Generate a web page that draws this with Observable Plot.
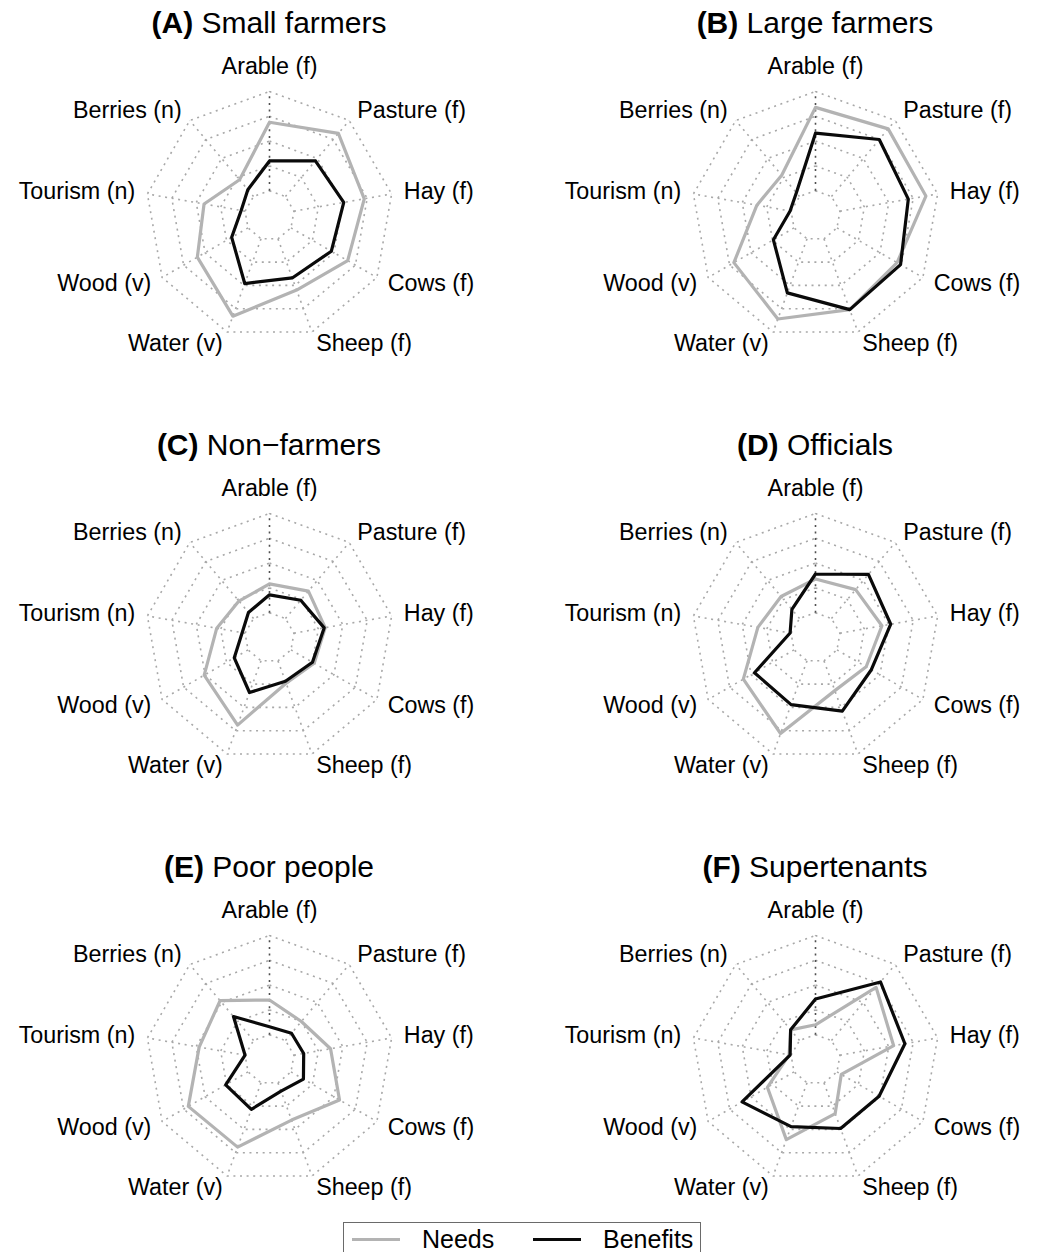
<!DOCTYPE html>
<html>
<head>
<meta charset="utf-8">
<script src="https://cdn.jsdelivr.net/npm/d3@7"></script>
<script src="https://cdn.jsdelivr.net/npm/@observablehq/plot@0.6"></script>
<style>
  html, body { margin: 0; padding: 0; background: #fff; }
  #fig { position: relative; width: 1039px; height: 1252px; overflow: hidden; background: #fff;
         font-family: "Liberation Sans", Arial, Helvetica, sans-serif; color: #000; }
  .cell { position: absolute; overflow: hidden; }
  .cell svg { overflow: hidden; display: block; }
  .title { position: absolute; font-size: 30px; line-height: 30px; white-space: nowrap;
           transform: translateX(-50%); }
  .legend { position: absolute; left: 343px; top: 1222px; width: 358px; height: 60px;
            border: 1.5px solid #6a6a6a; box-sizing: border-box; font-size: 25px; }
  .legend .sw { position: absolute; top: 15px; height: 3px; }
  .legend .lab { position: absolute; top: 3.5px; line-height: 24px; white-space: nowrap; }
</style>
</head>
<body>
<div id="fig"></div>
<script>
// ---- data ----
const axes = ["Arable (f)", "Pasture (f)", "Hay (f)", "Cows (f)", "Sheep (f)",
              "Water (v)", "Wood (v)", "Tourism (n)", "Berries (n)"];
const panelLetters = ["(A)", "(B)", "(C)", "(D)", "(E)", "(F)"];
const panelNames = ["Small farmers", "Large farmers", "Non\u2212farmers", "Officials",
                    "Poor people", "Supertenants"];
const seriesNames = ["Needs", "Benefits"];
const gridValues = [0, 0.25, 0.5, 0.75, 1];

// values: 0 = innermost ring, 1 = outer ring
const needsA    = [0.69, 0.83, 0.72, 0.66, 0.55, 0.83, 0.59, 0.42, 0.22];
const benefitsA = [0.30, 0.47, 0.51, 0.47, 0.42, 0.48, 0.19, 0.04, 0.09];
const needsB    = [0.84, 0.89, 0.88, 0.70, 0.76, 0.86, 0.70, 0.35, 0.28];
const benefitsB = [0.58, 0.75, 0.70, 0.74, 0.76, 0.58, 0.24, 0.01, 0.05];
const needsC    = [0.29, 0.36, 0.32, 0.27, 0.24, 0.69, 0.51, 0.29, 0.23];
const benefitsC = [0.18, 0.24, 0.31, 0.25, 0.22, 0.34, 0.16, 0.03, 0.08];
const needsD    = [0.34, 0.38, 0.43, 0.34, 0.32, 0.78, 0.59, 0.34, 0.29];
const benefitsD = [0.39, 0.58, 0.52, 0.40, 0.54, 0.47, 0.46, 0.01, 0.12];
const needsE    = [0.35, 0.25, 0.375, 0.565, 0.40, 0.69, 0.695, 0.47, 0.525];
const benefitsE = [0.08, 0.095, 0.10, 0.145, 0.09, 0.285, 0.26, 0.00, 0.315];
const needsF    = [0.10, 0.70, 0.55, 0.05, 0.33, 0.61, 0.31, 0.02, 0.14];
const benefitsF = [0.36, 0.77, 0.665, 0.49, 0.49, 0.47, 0.605, 0.01, 0.14];

const needsAll = [needsA, needsB, needsC, needsD, needsE, needsF];
const benefitsAll = [benefitsA, benefitsB, benefitsC, benefitsD, benefitsE, benefitsF];

// ---- drawing ----
const FONT = "'Liberation Sans', Arial, Helvetica, sans-serif";
const NEEDS_COLOR = "#b3b3b3", BENEFITS_COLOR = "#0a0a0a";
const GRID_COLOR = "#a8a8a8";
const DOTS = "2,4.6";

function radar(needs, benefits, W, H, cx, cy, R) {
  const rad = d3.scaleLinear().domain([0, 1]).range([0.2, 1]);
  const n = axes.length;
  const ang = i => i * 2 * Math.PI / n;
  const polygon = (vals, key) => {
    const p = vals.map((v, i) => ({x: rad(v) * Math.sin(ang(i)), y: rad(v) * Math.cos(ang(i)), key}));
    p.push({...p[0]});
    return p;
  };
  const rings = gridValues.flatMap(g => polygon(axes.map(() => g), String(g)));
  const spokes = axes.map((a, i) => ({
    x1: rad(0) * Math.sin(ang(i)), y1: rad(0) * Math.cos(ang(i)),
    x2: rad(1) * Math.sin(ang(i)), y2: rad(1) * Math.cos(ang(i)), i
  }));
  const labels = axes.map((a, i) => {
    const s = Math.sin(ang(i)), c = Math.cos(ang(i));
    const top = Math.abs(s) < 1e-6;
    const rr = top ? 1.2 : 1.1;
    return {x: rr * s, y: rr * c, text: a, side: top ? "middle" : (s > 0 ? "start" : "end")};
  });
  const textOpts = {x: "x", y: "y", text: "text", fontSize: 23.3, fill: "black", fontFamily: FONT};
  const gridOpts = {strokeWidth: 1.6, strokeDasharray: DOTS, strokeLinecap: "butt"};
  return Plot.plot({
    width: W, height: H, margin: 0,
    x: {domain: [-cx / R, (W - cx) / R], axis: null},
    y: {domain: [-(H - cy) / R, cy / R], axis: null},
    style: {fontFamily: FONT, background: "white", overflow: "hidden"},
    marks: [
      Plot.line(rings, {x: "x", y: "y", z: "key", stroke: GRID_COLOR, ...gridOpts}),
      Plot.link(spokes.filter(d => d.i !== 0), {x1: "x1", y1: "y1", x2: "x2", y2: "y2",
                        stroke: GRID_COLOR, ...gridOpts}),
      Plot.link(spokes.filter(d => d.i === 0), {x1: "x1", y1: "y1", x2: "x2", y2: "y2",
                        stroke: "#505050", ...gridOpts}),
      Plot.line(polygon(needs, seriesNames[0]), {x: "x", y: "y", stroke: NEEDS_COLOR, strokeWidth: 3.2,
                        strokeLinejoin: "round", strokeLinecap: "round"}),
      Plot.line(polygon(benefits, seriesNames[1]), {x: "x", y: "y", stroke: BENEFITS_COLOR, strokeWidth: 3.2,
                        strokeLinejoin: "round", strokeLinecap: "round"}),
      Plot.text(labels.filter(d => d.side === "middle"), {...textOpts, textAnchor: "middle"}),
      Plot.text(labels.filter(d => d.side === "start"), {...textOpts, textAnchor: "start"}),
      Plot.text(labels.filter(d => d.side === "end"), {...textOpts, textAnchor: "end"})
    ]
  });
}

const fig = document.getElementById("fig");
const ROW_H = 422, CY = 215, R = 124;
const cols = [{left: 0, width: 520, cx: 269}, {left: 520, width: 519, cx: 295}];

panelNames.forEach((name, k) => {
  const col = cols[k % 2], row = Math.floor(k / 2);
  const top = row * ROW_H;
  const cell = document.createElement("div");
  cell.className = "cell";
  cell.style.left = col.left + "px";
  cell.style.top = top + "px";
  cell.style.width = col.width + "px";
  cell.style.height = ROW_H + "px";
  cell.appendChild(radar(needsAll[k], benefitsAll[k], col.width, ROW_H, col.cx, CY, R));
  fig.appendChild(cell);

  const t = document.createElement("div");
  t.className = "title";
  t.style.left = (col.left + col.cx) + "px";
  t.style.top = (top + 8) + "px";
  const b = document.createElement("b");
  b.textContent = panelLetters[k];
  t.appendChild(b);
  t.appendChild(document.createTextNode(" " + name));
  fig.appendChild(t);
});

// legend
const leg = document.createElement("div");
leg.className = "legend";
const legendItems = [
  {name: seriesNames[0], color: NEEDS_COLOR, sw: 8, lab: 78},
  {name: seriesNames[1], color: BENEFITS_COLOR, sw: 189, lab: 259}
];
legendItems.forEach(it => {
  const s = document.createElement("div");
  s.className = "sw";
  s.style.left = it.sw + "px";
  s.style.width = "48px";
  s.style.background = it.color;
  leg.appendChild(s);
  const l = document.createElement("div");
  l.className = "lab";
  l.style.left = it.lab + "px";
  l.textContent = it.name;
  leg.appendChild(l);
});
fig.appendChild(leg);
</script>
</body>
</html>
